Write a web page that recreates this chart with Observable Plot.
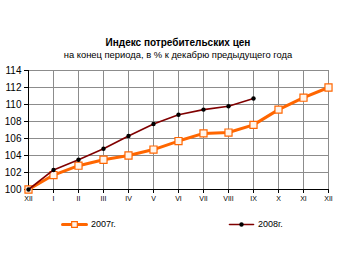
<!DOCTYPE html>
<html>
<head>
<meta charset="utf-8">
<script src="https://cdn.jsdelivr.net/npm/d3@7"></script>
<script src="https://cdn.jsdelivr.net/npm/@observablehq/plot@0.6"></script>
<style>
  html, body { margin: 0; padding: 0; background: #fff; }
  #chart { position: relative; width: 340px; height: 255px; font-family: "Liberation Sans", Arial, sans-serif; }
  #chart svg { position: absolute; left: 0; top: 0; }
  .title { position: absolute; left: 0; width: 356px; text-align: center; color: #000; white-space: nowrap; }
  .legend { position: absolute; top: 219px; font-size: 9px; color: #000; display: flex; align-items: center; }
  .legend svg { position: static !important; margin-right: 5px; }
</style>
</head>
<body>
<div id="chart">
  <div class="title" style="top:37px;font-size:10px;font-weight:bold;">Индекс потребительских цен</div>
  <div class="title" style="top:49px;font-size:9.4px;">на конец периода, в % к декабрю предыдущего года</div>
</div>
<script>
// Month labels, from December of the previous year through December
const months = ["XII", "I", "II", "III", "IV", "V", "VI", "VII", "VIII", "IX", "X", "XI", "XII"];
// Consumer price index, % of previous December
const cpi2007 = [100, 101.7, 102.8, 103.5, 104.0, 104.7, 105.7, 106.6, 106.7, 107.6, 109.4, 110.8, 112.0];
const cpi2008 = [100, 102.3, 103.5, 104.8, 106.3, 107.7, 108.8, 109.4, 109.8, 110.7];
const yTicks = [100, 102, 104, 106, 108, 110, 112, 114];
const seriesNames = ["2007г.", "2008г."];

const c2007 = "#FF6600";
const c2008 = "#800000";

const d07 = cpi2007.map((v, i) => ({i, v}));
const d08 = cpi2008.map((v, i) => ({i, v}));

const plot = Plot.plot({
  width: 340,
  height: 255,
  marginTop: 70,
  marginBottom: 66,
  marginLeft: 28,
  marginRight: 12,
  style: {fontFamily: "Liberation Sans, Arial, sans-serif", background: "transparent", overflow: "visible"},
  x: {domain: [0, 12], ticks: d3.range(13), tickFormat: i => months[i], label: null},
  y: {domain: [100, 114], ticks: yTicks, label: null},
  marks: [
    Plot.gridX(d3.range(13), {stroke: "#8c8c8c", strokeOpacity: 1}),
    Plot.gridY(yTicks, {stroke: "#8c8c8c", strokeOpacity: 1}),
    Plot.axisY(yTicks, {tickSize: 4, tickPadding: 3, fontSize: 10, stroke: "#000"}),
    Plot.axisX(d3.range(13), {tickSize: 4, tickPadding: 3, fontSize: 7, stroke: "#000", tickFormat: i => months[i]}),
    Plot.ruleX([0], {stroke: "#000"}),
    Plot.ruleY([100], {stroke: "#000"}),
    Plot.line(d07, {x: "i", y: "v", stroke: c2007, strokeWidth: 3}),
    Plot.dot(d07, {x: "i", y: "v", symbol: "square", r: 4, stroke: c2007, strokeWidth: 1.2, fill: "#fff5ec"}),
    Plot.line(d08, {x: "i", y: "v", stroke: c2008, strokeWidth: 1.6}),
    Plot.dot(d08, {x: "i", y: "v", r: 2.2, fill: "#000", stroke: "none"})
  ]
});
document.getElementById("chart").appendChild(plot);

// Legend swatches drawn with Plot as well
function swatch(name, color, width, symbol, r, fill, left) {
  const item = document.createElement("div");
  item.className = "legend";
  item.style.left = left + "px";
  const sw = Plot.plot({
    width: 24, height: 10, margin: 0,
    x: {domain: [0, 2], axis: null}, y: {domain: [0, 1], axis: null},
    style: {background: "transparent", overflow: "visible"},
    marks: [
      Plot.line([[0, 0.5], [2, 0.5]], {stroke: color, strokeWidth: width}),
      Plot.dot([[1, 0.5]], {symbol, r, stroke: symbol === "square" ? color : "none", strokeWidth: 1.2, fill})
    ]
  });
  item.appendChild(sw);
  const t = document.createElement("span");
  t.textContent = name;
  item.appendChild(t);
  document.getElementById("chart").appendChild(item);
}
swatch(seriesNames[0], c2007, 3, "square", 3.2, "#fff5ec", 62);
swatch(seriesNames[1], c2008, 1.6, "circle", 2.2, "#000", 229);
</script>
</body>
</html>
